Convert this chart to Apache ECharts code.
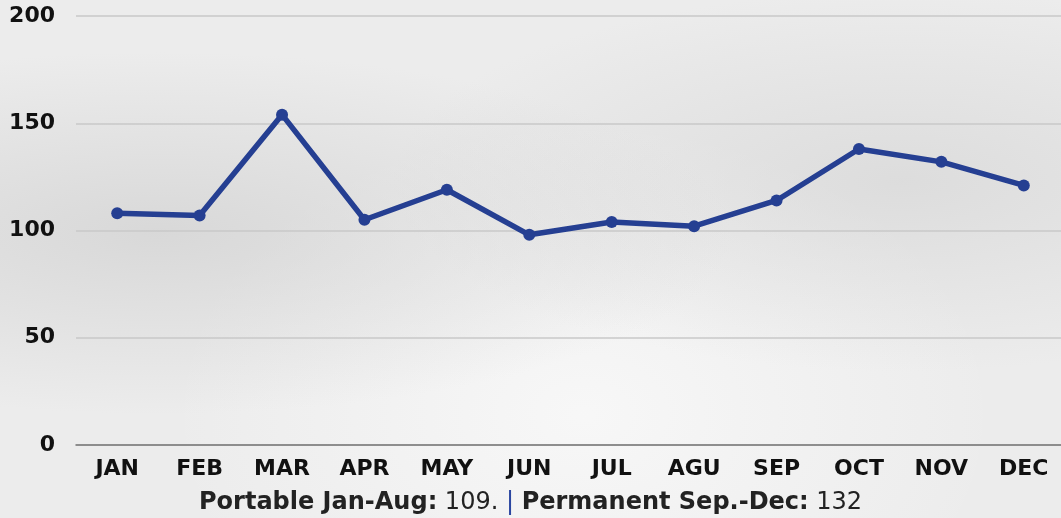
<!DOCTYPE html>
<html>
<head>
<meta charset="UTF-8">
<title>Monthly trend</title>
<script src="https://cdn.jsdelivr.net/npm/echarts@6/dist/echarts.min.js"></script>
<style>
  html, body { margin: 0; padding: 0; overflow: hidden; }
  #wrap {
    position: relative; width: 1061px; height: 518px; overflow: hidden;
    background:
      radial-gradient(ellipse at 15% 45%, rgba(200,200,200,0.55), rgba(200,200,200,0) 45%),
      radial-gradient(ellipse at 85% 35%, rgba(205,205,205,0.5), rgba(205,205,205,0) 40%),
      radial-gradient(ellipse at 55% 80%, rgba(250,250,250,0.8), rgba(250,250,250,0) 50%),
      #ececec;
  }
  /* chart is a bit wider than the window so the plot runs past the right edge */
  #main { position: absolute; left: 0; top: 0; width: 1070px; height: 518px; }
</style>
</head>
<body>
<div id="wrap"><div id="main"></div></div>
<script type="text/javascript">
    var months = ['JAN', 'FEB', 'MAR', 'APR', 'MAY', 'JUN', 'JUL', 'AGU', 'SEP', 'OCT', 'NOV', 'DEC'];
    var values = [108, 107, 154, 105, 119, 98, 104, 102, 114, 138, 132, 121];
    var yTicks = [0, 50, 100, 150, 200];
    var font = '"DejaVu Sans", sans-serif';

    var myChart = echarts.init(document.getElementById('main'));

    var option = {
        backgroundColor: 'transparent',
        textStyle: { fontFamily: font },
        graphic: [{
            type: 'text',
            left: 199,
            top: 491,
            style: {
                text: '{b|Portable Jan-Aug:} 109. {p||} {b|Permanent Sep.-Dec:} 132',
                fontFamily: font,
                fontSize: 24,
                fill: '#222',
                rich: {
                    b: { fontFamily: font, fontSize: 24, fontWeight: 'bold', fill: '#222' },
                    p: { fontFamily: font, fontSize: 24, fill: '#2a46a0' }
                }
            }
        }],
        grid: { left: 76, right: 5, top: 16, bottom: 73 },
        xAxis: {
            type: 'category',
            data: months,
            boundaryGap: true,
            axisLine: { lineStyle: { color: '#777', width: 1.5 } },
            axisTick: { show: false },
            axisLabel: { color: '#111', fontSize: 22, fontWeight: 'bold', margin: 13 }
        },
        yAxis: {
            type: 'value',
            min: yTicks[0],
            max: yTicks[yTicks.length - 1],
            interval: 50,
            axisLine: { show: false },
            axisTick: { show: false },
            axisLabel: { color: '#111', fontSize: 22, fontWeight: 'bold', margin: 21 },
            splitLine: { lineStyle: { color: '#c8c8c8', width: 1.5 } }
        },
        series: [{
            type: 'line',
            data: values,
            color: '#253f92',
            symbol: 'circle',
            symbolSize: 12,
            lineStyle: { width: 5.5, color: '#253f92' },
            itemStyle: { color: '#253f92' }
        }]
    };
    myChart.setOption(option);
</script>
</body>
</html>
